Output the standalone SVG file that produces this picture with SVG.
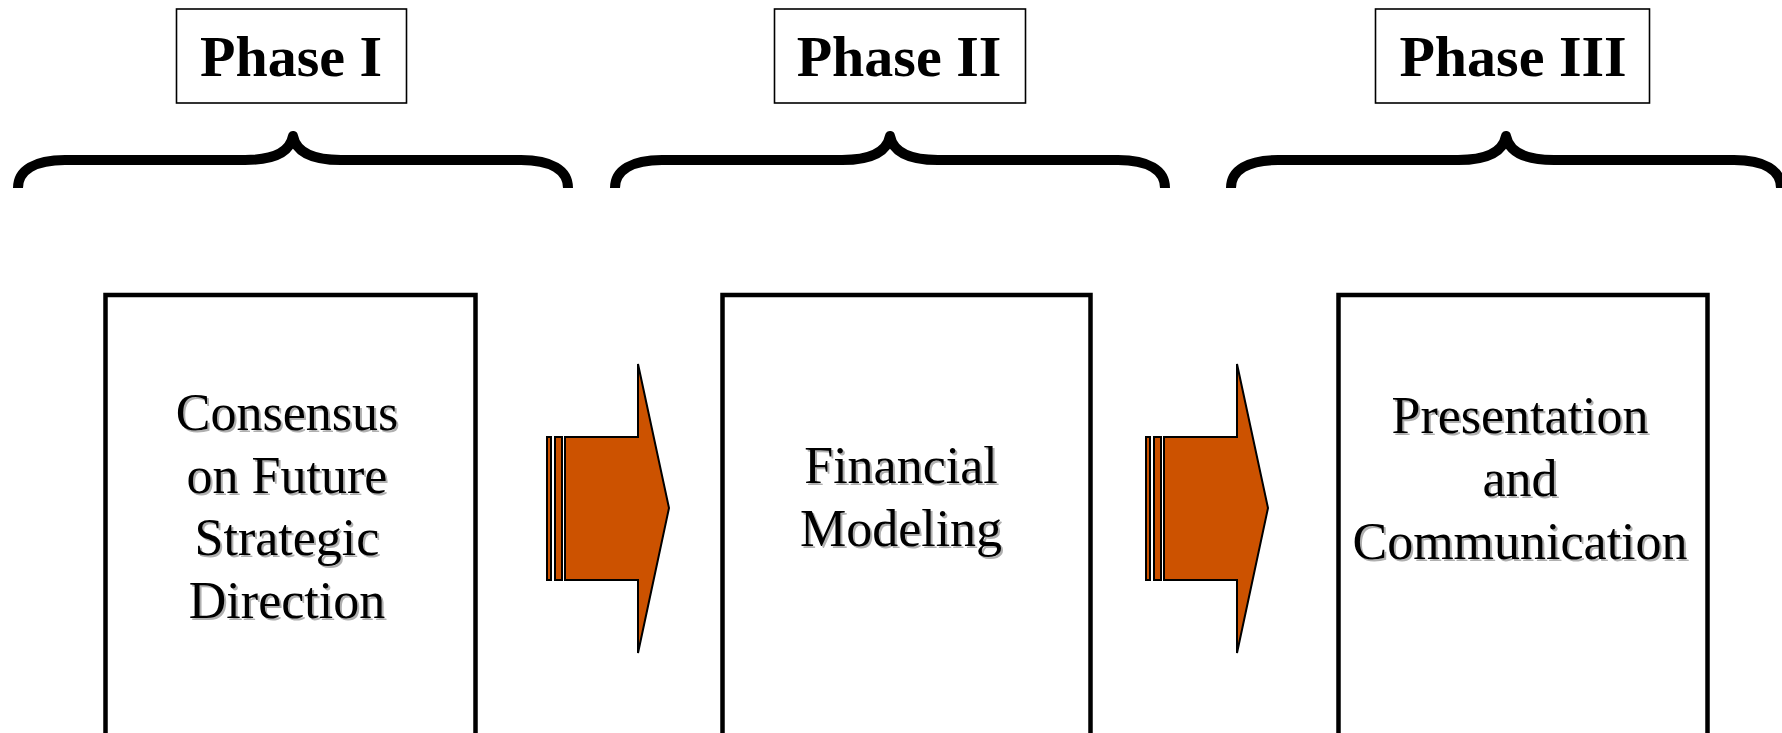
<svg xmlns="http://www.w3.org/2000/svg" width="1782" height="733" viewBox="0 0 1782 733">
  <defs>
    <style>
      .phase-box { fill: #ffffff; stroke: #000000; stroke-width: 1.6; }
      .phase-text { font-family: "Liberation Serif", "Times New Roman", serif; font-weight: bold; font-size: 58px; fill: #000000; text-anchor: middle; }
      .brace { fill: none; stroke: #000000; stroke-width: 10; stroke-linejoin: round; stroke-linecap: butt; }
      .step-box { fill: #ffffff; stroke: #000000; stroke-width: 4.5; }
      .step-text { font-family: "Liberation Serif", "Times New Roman", serif; font-size: 52px; fill: #000000; text-anchor: middle; }
      .step-shadow { font-family: "Liberation Serif", "Times New Roman", serif; font-size: 52px; fill: #b0b0b0; text-anchor: middle; }
      .arrow { fill: #CC5200; stroke: #000000; stroke-width: 2; stroke-linejoin: miter; }
    </style>
    <path id="brace-shape" d="M 18 188 C 18 170, 35 160, 65 160 L 245 160 C 275 160, 290 152, 293 136 C 296 152, 311 160, 341 160 L 521 160 C 551 160, 568 170, 568 188"/>
    <g id="step-arrow">
      <rect x="547" y="437" width="4" height="143"/>
      <rect x="555" y="437" width="7" height="143"/>
      <polygon points="565,437 638,437 638,364 669,508 638,653 638,580 565,580"/>
    </g>
  </defs>

  <rect width="1782" height="733" fill="#ffffff"/>

  <!-- phase headers -->
  <g id="phase1">
    <rect class="phase-box" x="176.5" y="9" width="230" height="94"/>
    <text class="phase-text" x="291" y="76">Phase I</text>
  </g>
  <g id="phase2">
    <rect class="phase-box" x="774.5" y="9" width="251" height="94"/>
    <text class="phase-text" x="899" y="76">Phase II</text>
  </g>
  <g id="phase3">
    <rect class="phase-box" x="1375.5" y="9" width="274" height="94"/>
    <text class="phase-text" x="1513" y="76">Phase III</text>
  </g>

  <!-- curly braces under each phase -->
  <g id="braces">
    <use href="#brace-shape" class="brace"/>
    <use href="#brace-shape" class="brace" transform="translate(597,0)"/>
    <use href="#brace-shape" class="brace" transform="translate(1213,0)"/>
  </g>

  <!-- step boxes -->
  <g id="step1">
    <rect class="step-box" x="105.5" y="295" width="370" height="480"/>
    <g class="step-shadow">
      <text x="289" y="432">Consensus</text>
      <text x="289" y="494.5">on Future</text>
      <text x="289" y="557">Strategic</text>
      <text x="289" y="619.5">Direction</text>
    </g>
    <g class="step-text">
      <text x="287" y="430">Consensus</text>
      <text x="287" y="492.5">on Future</text>
      <text x="287" y="555">Strategic</text>
      <text x="287" y="617.5">Direction</text>
    </g>
  </g>
  <g id="step2">
    <rect class="step-box" x="722.5" y="295" width="368" height="480"/>
    <g class="step-shadow">
      <text x="903" y="485">Financial</text>
      <text x="903" y="547.5">Modeling</text>
    </g>
    <g class="step-text">
      <text x="901" y="483">Financial</text>
      <text x="901" y="545.5">Modeling</text>
    </g>
  </g>
  <g id="step3">
    <rect class="step-box" x="1338.5" y="295" width="369" height="480"/>
    <g class="step-shadow">
      <text x="1522" y="435">Presentation</text>
      <text x="1522" y="498">and</text>
      <text x="1522" y="561">Communication</text>
    </g>
    <g class="step-text">
      <text x="1520" y="433">Presentation</text>
      <text x="1520" y="496">and</text>
      <text x="1520" y="559">Communication</text>
    </g>
  </g>

  <!-- connectors: block arrows between steps -->
  <g id="connectors">
    <use href="#step-arrow" class="arrow"/>
    <use href="#step-arrow" class="arrow" transform="translate(599,0)"/>
  </g>
</svg>
